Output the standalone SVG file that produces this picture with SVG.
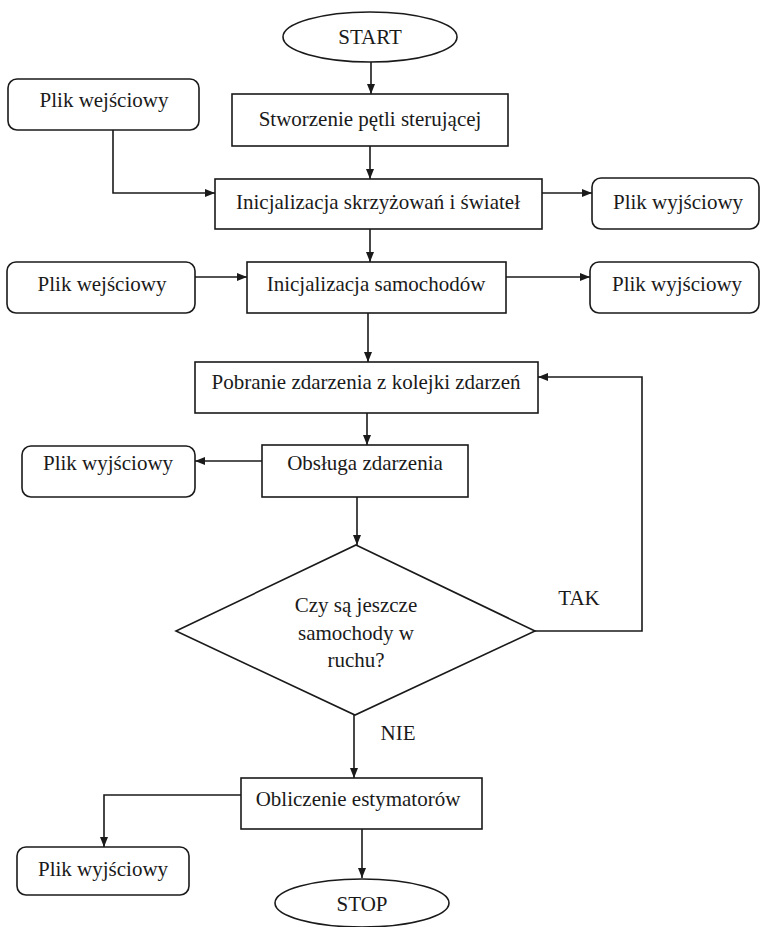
<svg xmlns="http://www.w3.org/2000/svg" width="760" height="927" viewBox="0 0 760 927">
<style>
.s{fill:#fff;stroke:#1a1a1a;stroke-width:1.6}
.c{fill:none;stroke:#1a1a1a;stroke-width:1.6}
text{font-family:"Liberation Serif","Times New Roman",serif;font-size:21px;fill:#1a1a1a;text-anchor:middle}
</style>
<defs>
<marker id="a" viewBox="0 0 10 10" refX="10" refY="5" markerWidth="10" markerHeight="10" markerUnits="userSpaceOnUse" orient="auto">
<path d="M0,1 L10,5 L0,9 Z" fill="#1a1a1a"/>
</marker>
</defs>
<rect width="760" height="927" fill="#fff"/>
<g id="connectors">
<path class="c" d="M371,62 V94" marker-end="url(#a)"/>
<path class="c" d="M370,146 V179" marker-end="url(#a)"/>
<path class="c" d="M113,130 V193 H215" marker-end="url(#a)"/>
<path class="c" d="M542,193 H592" marker-end="url(#a)"/>
<path class="c" d="M370,229 V262" marker-end="url(#a)"/>
<path class="c" d="M195,277 H247" marker-end="url(#a)"/>
<path class="c" d="M506,277 H590" marker-end="url(#a)"/>
<path class="c" d="M368,313 V362" marker-end="url(#a)"/>
<path class="c" d="M535,631 H642 V377 H538" marker-end="url(#a)"/>
<path class="c" d="M367,413 V445" marker-end="url(#a)"/>
<path class="c" d="M262,461 H195" marker-end="url(#a)"/>
<path class="c" d="M357,497 V545" marker-end="url(#a)"/>
<path class="c" d="M354,715 V778" marker-end="url(#a)"/>
<path class="c" d="M241,795 H104 V847" marker-end="url(#a)"/>
<path class="c" d="M362,829 V878" marker-end="url(#a)"/>
</g>
<g font-family="Liberation Serif, Times New Roman, serif" font-size="21">
<g id="start"><ellipse class="s" cx="370" cy="37" rx="87" ry="25"/><text x="370" y="44">START</text></g>
<g id="stworzenie"><rect class="s" x="232" y="94" width="276" height="52"/><text x="370" y="126">Stworzenie pętli sterującej</text></g>
<g id="wej1"><rect class="s" x="8" y="79" width="191" height="51" rx="9"/><text x="104" y="107">Plik wejściowy</text></g>
<g id="init1"><rect class="s" x="215" y="179" width="327" height="50"/><text x="378" y="209">Inicjalizacja skrzyżowań i świateł</text></g>
<g id="wyj1"><rect class="s" x="592" y="178" width="167" height="51" rx="9"/><text x="678" y="209">Plik wyjściowy</text></g>
<g id="wej2"><rect class="s" x="7" y="262" width="188" height="51" rx="9"/><text x="102" y="291">Plik wejściowy</text></g>
<g id="init2"><rect class="s" x="247" y="262" width="259" height="51"/><text x="376" y="291">Inicjalizacja samochodów</text></g>
<g id="wyj2"><rect class="s" x="590" y="262" width="169" height="51" rx="9"/><text x="677" y="291">Plik wyjściowy</text></g>
<g id="pobranie"><rect class="s" x="195" y="362" width="343" height="51"/><text x="366" y="389">Pobranie zdarzenia z kolejki zdarzeń</text></g>
<g id="obsluga"><rect class="s" x="262" y="445" width="206" height="52"/><text x="365" y="470">Obsługa zdarzenia</text></g>
<g id="wyj3"><rect class="s" x="22" y="446" width="173" height="51" rx="9"/><text x="108" y="470">Plik wyjściowy</text></g>
<g id="decyzja"><path class="s" d="M356,545 L535,631 L355,715 L176,631 Z"/>
<text x="356" y="612">Czy są jeszcze</text><text x="356" y="640">samochody w</text><text x="356" y="667">ruchu?</text></g>
<text x="579" y="605">TAK</text>
<text x="398" y="740">NIE</text>
<g id="obliczenie"><rect class="s" x="241" y="778" width="241" height="51"/><text x="358" y="806">Obliczenie estymatorów</text></g>
<g id="wyj4"><rect class="s" x="17" y="847" width="172" height="48" rx="9"/><text x="103" y="876">Plik wyjściowy</text></g>
<g id="stop"><ellipse class="s" cx="362" cy="903" rx="87" ry="24"/><text x="362" y="911">STOP</text></g>
</g>
</svg>
